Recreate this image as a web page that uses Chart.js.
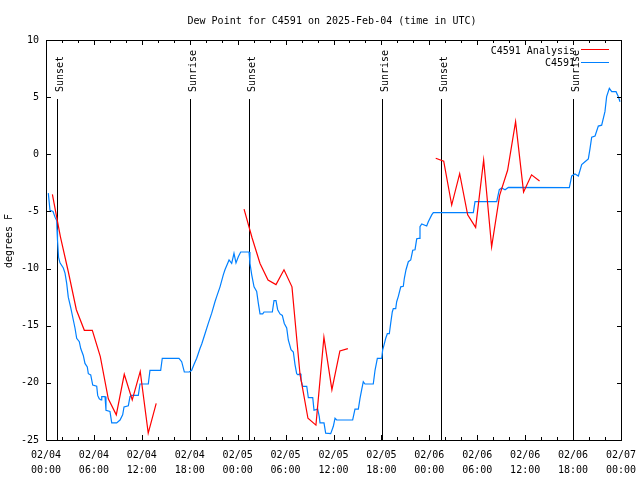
<!DOCTYPE html>
<html><head><meta charset="utf-8">
<style>html,body{margin:0;padding:0;background:#fff}canvas{display:block}</style>
<script src="https://cdn.jsdelivr.net/npm/chart.js@4.4.1/dist/chart.umd.min.js"></script>
</head><body>
<canvas id="c" width="640" height="480"></canvas>
<script>
// Hours since 02/04 00:00 UTC
const tickHours = [0,6,12,18,24,30,36,42,48,54,60,66,72];
const tickLabels = [
  ['02/04','00:00'],['02/04','06:00'],['02/04','12:00'],['02/04','18:00'],
  ['02/05','00:00'],['02/05','06:00'],['02/05','12:00'],['02/05','18:00'],
  ['02/06','00:00'],['02/06','06:00'],['02/06','12:00'],['02/06','18:00'],
  ['02/07','00:00']
];
const yTicks = [-25,-20,-15,-10,-5,0,5,10];
const sunHours = [1.42, 18.05, 25.45, 42.1, 49.5, 66.0];
const sunLabels = ['Sunset','Sunrise','Sunset','Sunrise','Sunset','Sunrise'];

// C4591 Analysis (red); null = gap
const anaHours = [0.8,1.8,2.8,3.8,4.8,5.8,6.8,7.8,8.8,9.8,10.8,11.8,12.8,13.8,14.3,
  24.8,25.8,26.8,27.8,28.8,29.8,30.8,31.8,32.8,33.8,34.8,35.8,36.8,37.8,38.3,
  48.8,49.8,50.8,51.8,52.8,53.8,54.8,55.8,56.8,57.8,58.8,59.8,60.8,61.8];
const anaDewF = [-3.5,-7.2,-10.3,-13.6,-15.4,-15.4,-17.7,-21.4,-22.8,-19.25,-21.5,-19.0,-24.4,-21.8,null,
  -4.8,-7.3,-9.55,-11.0,-11.4,-10.1,-11.6,-19.2,-23.1,-23.7,-16.0,-20.6,-17.2,-17.0,null,
  -0.35,-0.6,-4.44,-1.7,-5.3,-6.4,-0.5,-8.1,-3.6,-1.4,2.85,-3.3,-1.8,-2.34];

// C4591 observations (blue)
const obsHours = [0.29,0.50,0.88,1.13,1.34,1.38,1.44,1.57,1.75,2.17,2.38,2.59,2.79,3.09,3.42,3.63,3.84,4.17,4.35,4.67,
  4.88,5.17,5.30,5.60,5.85,6.35,6.47,6.67,6.89,6.98,7.39,7.51,8.01,8.23,8.85,9.27,9.60,9.77,10.31,10.52,
  10.61,11.56,11.77,12.81,13.02,14.36,14.56,16.65,16.99,17.32,17.94,18.24,18.53,18.87,19.28,19.50,19.91,20.32,20.75,21.16,
  21.37,21.79,22.20,22.41,22.83,22.92,23.25,23.54,23.79,24.08,24.38,25.42,25.54,25.76,26.05,26.38,26.58,26.80,27.14,27.30,
  28.34,28.55,28.80,29.01,29.30,29.59,29.84,30.14,30.34,30.68,30.97,31.18,31.39,31.56,31.81,31.93,32.14,32.65,32.85,33.40,
  33.56,34.02,34.22,34.31,34.81,35.02,35.65,35.98,36.19,36.40,38.40,38.69,39.11,39.32,39.53,39.73,39.94,40.98,41.20,41.49,
  42.04,42.16,42.32,42.54,42.74,42.99,43.16,43.36,43.49,43.79,43.91,44.11,44.42,44.74,44.87,45.08,45.37,45.67,45.92,46.21,
  46.42,46.71,46.83,47.05,47.67,47.87,48.30,48.50,53.51,53.72,56.44,56.76,57.06,57.48,57.89,65.53,65.83,66.24,66.66,67.08,
  67.49,67.91,68.12,68.33,68.75,69.16,69.58,69.99,70.20,70.54,70.84,71.38,71.67,71.87];
const obsDewF = [-3.4,-4.9,-5.0,-5.5,-5.8,-6.6,-7.5,-9.0,-9.5,-9.95,-10.4,-11.3,-12.5,-13.4,-14.5,-15.2,-16.1,-16.4,-17.0,-17.6,
  -18.3,-18.6,-19.2,-19.3,-20.2,-20.3,-21.1,-21.4,-21.5,-21.2,-21.2,-22.4,-22.5,-23.5,-23.5,-23.25,-22.8,-22.1,-22.0,-21.2,
  -21.1,-21.1,-20.1,-20.1,-18.9,-18.9,-17.85,-17.85,-18.15,-19.05,-19.05,-18.9,-18.4,-17.85,-17.0,-16.6,-15.7,-14.8,-13.9,-12.9,
  -12.45,-11.6,-10.55,-10.1,-9.4,-9.25,-9.55,-8.67,-9.5,-8.96,-8.55,-8.55,-9.55,-10.55,-11.6,-12.0,-13.0,-13.97,-13.97,-13.8,
  -13.8,-12.8,-12.8,-13.6,-13.97,-14.1,-14.8,-15.2,-16.25,-17.1,-17.3,-18.4,-19.2,-19.3,-19.2,-19.75,-20.3,-20.3,-21.3,-21.3,
  -22.4,-22.3,-22.95,-23.5,-23.5,-24.4,-24.45,-23.8,-23.1,-23.25,-23.25,-22.3,-22.3,-21.35,-20.6,-19.9,-20.1,-20.1,-18.9,-17.85,
  -17.85,-17.1,-16.7,-16.1,-15.7,-15.7,-14.8,-13.8,-13.5,-13.5,-12.9,-12.45,-11.6,-11.55,-10.85,-10.1,-9.4,-9.25,-8.4,-8.35,
  -7.4,-7.35,-6.33,-6.1,-6.27,-5.9,-5.3,-5.1,-5.1,-4.15,-4.15,-3.1,-2.95,-3.1,-2.9,-2.92,-1.9,-1.73,-1.9,-0.9,
  -0.65,-0.4,0.5,1.5,1.6,2.47,2.55,3.73,5.04,5.77,5.48,5.48,5.04,4.6];

const FONT = '"DejaVu Sans Mono", "Liberation Mono", monospace';
const RED = '#ff0000';
const BLUE = '#0080ff';

const overlay = {
  id: 'overlay',
  beforeDatasetsDraw(chart) {
    const {ctx, chartArea: a, scales: {x}} = chart;
    ctx.save();
    ctx.strokeStyle = '#000'; ctx.fillStyle = '#000'; ctx.lineWidth = 1;
    ctx.font = '10px ' + FONT;
    sunHours.forEach((h, i) => {
      const px = Math.round(x.getPixelForValue(h)) + 0.5;
      ctx.beginPath(); ctx.moveTo(px, 99); ctx.lineTo(px, a.bottom); ctx.stroke();
      ctx.save();
      ctx.translate(px + 5, 92); ctx.rotate(-Math.PI / 2);
      ctx.textAlign = 'left'; ctx.textBaseline = 'alphabetic';
      ctx.fillText(sunLabels[i], 0, 0);
      ctx.restore();
    });
    ctx.restore();
  },
  afterDatasetsDraw(chart) {
    const {ctx, chartArea: a, scales: {x, y}} = chart;
    ctx.save();
    ctx.strokeStyle = '#000'; ctx.fillStyle = '#000'; ctx.lineWidth = 1;
    ctx.strokeRect(a.left + 0.5, a.top + 0.5, a.right - a.left, a.bottom - a.top);
    ctx.beginPath();
    for (let h = 2; h < 72; h += 2) {
      const len = h % 6 === 0 ? 5 : 3;
      const px = Math.round(x.getPixelForValue(h)) + 0.5;
      ctx.moveTo(px, a.bottom); ctx.lineTo(px, a.bottom - len);
      ctx.moveTo(px, a.top); ctx.lineTo(px, a.top + len);
    }
    yTicks.forEach(v => {
      const py = Math.round(y.getPixelForValue(v)) + 0.5;
      ctx.moveTo(a.left, py); ctx.lineTo(a.left + 5, py);
      ctx.moveTo(a.right + 1, py); ctx.lineTo(a.right - 4, py);
    });
    ctx.stroke();
    ctx.font = '10px ' + FONT;
    ctx.textAlign = 'center'; ctx.textBaseline = 'alphabetic';
    ctx.fillText('Dew Point for C4591 on 2025-Feb-04 (time in UTC)', 332, 24);
    ctx.save(); ctx.translate(12, 241); ctx.rotate(-Math.PI / 2);
    ctx.fillText('degrees F', 0, 0); ctx.restore();
    ctx.textAlign = 'right';
    ctx.fillText('C4591 Analysis', 575, 54);
    ctx.fillText('C4591', 575, 66);
    ctx.strokeStyle = RED; ctx.beginPath(); ctx.moveTo(581, 49.5); ctx.lineTo(609, 49.5); ctx.stroke();
    ctx.strokeStyle = BLUE; ctx.beginPath(); ctx.moveTo(581, 62.5); ctx.lineTo(609, 62.5); ctx.stroke();
    ctx.restore();
  }
};

new Chart(document.getElementById('c'), {
  type: 'line',
  data: {
    datasets: [
      {label: 'C4591 Analysis', data: anaHours.map((h, i) => ({x: h, y: anaDewF[i]})),
       borderColor: RED, borderWidth: 1.2, pointRadius: 0, tension: 0, spanGaps: false},
      {label: 'C4591', data: obsHours.map((h, i) => ({x: h, y: obsDewF[i]})),
       borderColor: BLUE, borderWidth: 1.2, pointRadius: 0, tension: 0}
    ]
  },
  options: {
    responsive: false, animation: false, events: [],
    layout: {padding: {top: 40, right: 19, left: 0, bottom: 0}},
    plugins: {legend: {display: false}, title: {display: false}, tooltip: {enabled: false}},
    scales: {
      x: {
        type: 'linear', min: 0, max: 72,
        afterBuildTicks(s) { s.ticks = tickHours.map(v => ({value: v})); },
        ticks: {autoSkip: false, maxRotation: 0, minRotation: 0, padding: 8, color: '#000',
          font: {family: FONT, size: 10, lineHeight: 1.47},
          callback: (v) => tickLabels[tickHours.indexOf(v)]},
        grid: {display: false, drawTicks: false}, border: {display: false},
        afterFit(s) { s.height = 40; s.paddingLeft = 0; s.paddingRight = 0; s.paddingTop = 0; s.paddingBottom = 0; }
      },
      y: {
        min: -25, max: 10,
        afterBuildTicks(s) { s.ticks = yTicks.map(v => ({value: v})); },
        ticks: {padding: 7, color: '#000', font: {family: FONT, size: 10}, callback: v => String(v)},
        grid: {display: false, drawTicks: false}, border: {display: false},
        afterFit(s) { s.width = 46; s.paddingLeft = 0; s.paddingRight = 0; s.paddingTop = 0; s.paddingBottom = 0; }
      }
    }
  },
  plugins: [overlay]
});
</script>
</body></html>
